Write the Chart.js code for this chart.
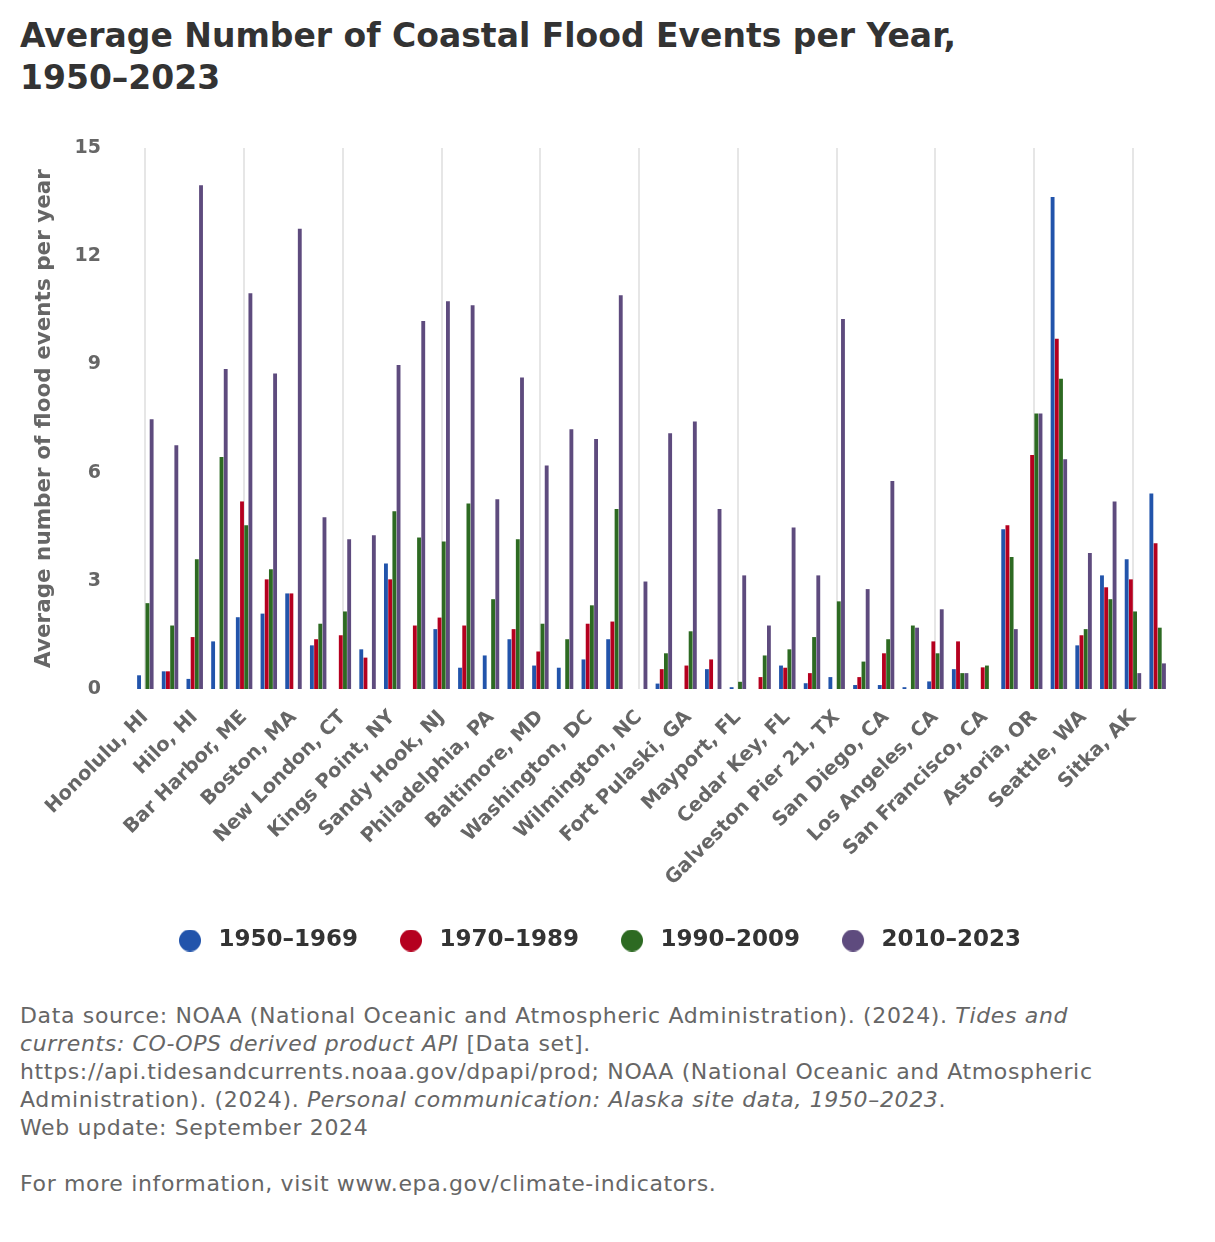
<!DOCTYPE html>
<html>
<head>
<meta charset="utf-8">
<script src="https://cdn.jsdelivr.net/npm/chart.js@4/dist/chart.umd.min.js"></script>
<style>
  body { margin: 0; background: #fff; font-family: "DejaVu Sans", sans-serif; }
  #title {
    position: absolute; left: 20px; top: 15px; margin: 0;
    font-size: 33px; font-weight: bold; line-height: 42px; color: #333;
  }
  #wrap { position: absolute; left: 0; top: 100px; width: 1215px; height: 862px; }
  #notes {
    position: absolute; left: 20px; top: 1002px; white-space: nowrap;
    font-size: 22px; letter-spacing: 0.65px; line-height: 28px; color: #666;
  }
</style>
</head>
<body>
<h1 id="title">Average Number of Coastal Flood Events per Year,<br>1950–2023</h1>
<div id="wrap"><canvas id="floodChart"></canvas></div>
<div id="notes">
  Data source: NOAA (National Oceanic and Atmospheric Administration). (2024). <i>Tides and</i><br>
  <i>currents: CO-OPS derived product API</i> [Data set].<br>
  https://api.tidesandcurrents.noaa.gov/dpapi/prod; NOAA (National Oceanic and Atmospheric<br>
  Administration). (2024). <i>Personal communication: Alaska site data, 1950–2023</i>.<br>
  Web update: September 2024<br><br>
  For more information, visit www.epa.gov/climate-indicators.
</div>
<script>
// sites (only every other one is labelled on the axis)
var sites = [
  "Honolulu, HI", "Kahului, HI", "Hilo, HI", "Eastport, ME", "Bar Harbor, ME",
  "Portland, ME", "Boston, MA", "Newport, RI", "New London, CT", "Bridgeport, CT",
  "Kings Point, NY", "The Battery, NY", "Sandy Hook, NJ", "Atlantic City, NJ", "Philadelphia, PA",
  "Lewes, DE", "Baltimore, MD", "Annapolis, MD", "Washington, DC", "Sewells Point, VA",
  "Wilmington, NC", "Charleston, SC", "Fort Pulaski, GA", "Fernandina Beach, FL", "Mayport, FL",
  "Key West, FL", "Cedar Key, FL", "Pensacola, FL", "Galveston Pier 21, TX", "Port Isabel, TX",
  "San Diego, CA", "La Jolla, CA", "Los Angeles, CA", "Port San Luis, CA", "San Francisco, CA",
  "Crescent City, CA", "Astoria, OR", "Neah Bay, WA", "Seattle, WA", "Friday Harbor, WA",
  "Sitka, AK", "Juneau, AK"
];

var periods = ["1950–1969", "1970–1989", "1990–2009", "2010–2023"];

var v1950 = [0.38, 0.49, 0.28, 1.32, 1.99, 2.09, 2.65, 1.21, 0, 1.10,
             3.48, 0, 1.66, 0.59, 0.93, 1.38, 0.65, 0.59, 0.82, 1.38,
             0, 0.15, 0, 0.55, 0.05, 0, 0.65, 0.16, 0.33, 0.11,
             0.11, 0.05, 0.21, 0.55, 0, 4.43, 0, 13.64, 1.21, 3.15,
             3.60, 5.42];
var v1970 = [0, 0.49, 1.44, 0, 5.20, 3.04, 2.65, 1.38, 1.49, 0.87,
             3.04, 1.76, 1.98, 1.76, 0, 1.66, 1.04, 0, 1.81, 1.87,
             0, 0.55, 0.65, 0.82, 0, 0.33, 0.59, 0.44, 0, 0.33,
             0.99, 0, 1.32, 1.32, 0.60, 4.54, 6.49, 9.71, 1.49, 2.82,
             3.04, 4.04];
var v1990 = [2.38, 1.76, 3.60, 6.43, 4.54, 3.32, 0, 1.81, 2.15, 0,
             4.93, 4.20, 4.09, 5.14, 2.49, 4.15, 1.81, 1.38, 2.32, 4.99,
             0, 0.99, 1.60, 0, 0.20, 0.93, 1.10, 1.44, 2.43, 0.76,
             1.38, 1.76, 0.99, 0.44, 0.65, 3.66, 7.64, 8.60, 1.66, 2.49,
             2.15, 1.70];
var v2010 = [7.48, 6.76, 13.97, 8.87, 10.97, 8.75, 12.76, 4.76, 4.15, 4.26,
             8.98, 10.20, 10.75, 10.64, 5.26, 8.64, 6.20, 7.20, 6.93, 10.92,
             2.98, 7.09, 7.42, 4.99, 3.15, 1.76, 4.48, 3.15, 10.26, 2.77,
             5.77, 1.70, 2.21, 0.44, 0, 1.66, 7.64, 6.37, 3.77, 5.20,
             0.44, 0.71];

var colors = ["#2254ab", "#b5001f", "#2d6a22", "#5e4b7e"];
var yTicks = [0, 3, 6, 9, 12, 15];

// legend dot: circle sitting at the left of a wider box, so the text gets some room
function dot(color) {
  var c = document.createElement('canvas');
  c.width = 28; c.height = 22;
  var g = c.getContext('2d');
  g.fillStyle = color;
  g.beginPath();
  g.arc(11, 11, 11, 0, Math.PI * 2);
  g.fill();
  return c;
}

var series = [v1950, v1970, v1990, v2010];
var datasets = series.map(function (vals, i) {
  return {
    label: periods[i],
    data: vals,
    backgroundColor: colors[i],
    borderWidth: 0,
    pointStyle: dot(colors[i]),
    barPercentage: 0.92,
    categoryPercentage: 0.68
  };
});

// nudge the legend a little to the right, like the original
var legendShift = {
  id: 'legendShift',
  afterLayout: function (chart) {
    if (chart.legend) { chart.legend.left += 15; chart.legend.right += 15; }
  }
};

var ctx = document.getElementById("floodChart");
var floodChart = new Chart(ctx, {
  type: 'bar',
  data: { labels: sites, datasets: datasets },
  plugins: [legendShift],
  options: {
    responsive: true,
    maintainAspectRatio: false,
    animation: false,
    layout: { padding: { top: 48, right: 45, left: 0, bottom: 0 } },
    scales: {
      x: {
        offset: true,
        afterFit: function (scale) { scale.height = 198; },
        grid: {
          offset: false,
          drawTicks: false,
          lineWidth: 2,
          color: function (c) { return c.index % 2 ? 'rgba(0,0,0,0)' : '#e6e6e6'; }
        },
        border: { display: false },
        ticks: {
          autoSkip: false,
          minRotation: 45,
          maxRotation: 45,
          padding: 17,
          color: '#666',
          font: { family: 'DejaVu Sans', size: 19.5, weight: 'bold' },
          callback: function (val, i) { return i % 2 ? null : this.getLabelForValue(val); }
        }
      },
      y: {
        min: 0,
        max: 15,
        afterBuildTicks: function (scale) {
          scale.ticks = yTicks.map(function (v) { return { value: v }; });
        },
        afterFit: function (scale) { scale.width = 133; },
        grid: { display: false },
        border: { display: false },
        ticks: {
          padding: 24,
          color: '#666',
          font: { family: 'DejaVu Sans', size: 19, weight: 'bold' }
        },
        title: {
          display: true,
          text: 'Average number of flood events per year',
          color: '#666',
          padding: { top: 32, bottom: 0 },
          font: { family: 'DejaVu Sans', size: 21.5, weight: 'bold' }
        }
      }
    },
    plugins: {
      legend: {
        position: 'bottom',
        labels: {
          usePointStyle: true,
          pointStyleWidth: 28,
          boxHeight: 22,
          padding: 42,
          color: '#333',
          font: { family: 'DejaVu Sans', size: 23, weight: 'bold' }
        }
      },
      tooltip: { enabled: true }
    }
  }
});
</script>
</body>
</html>
